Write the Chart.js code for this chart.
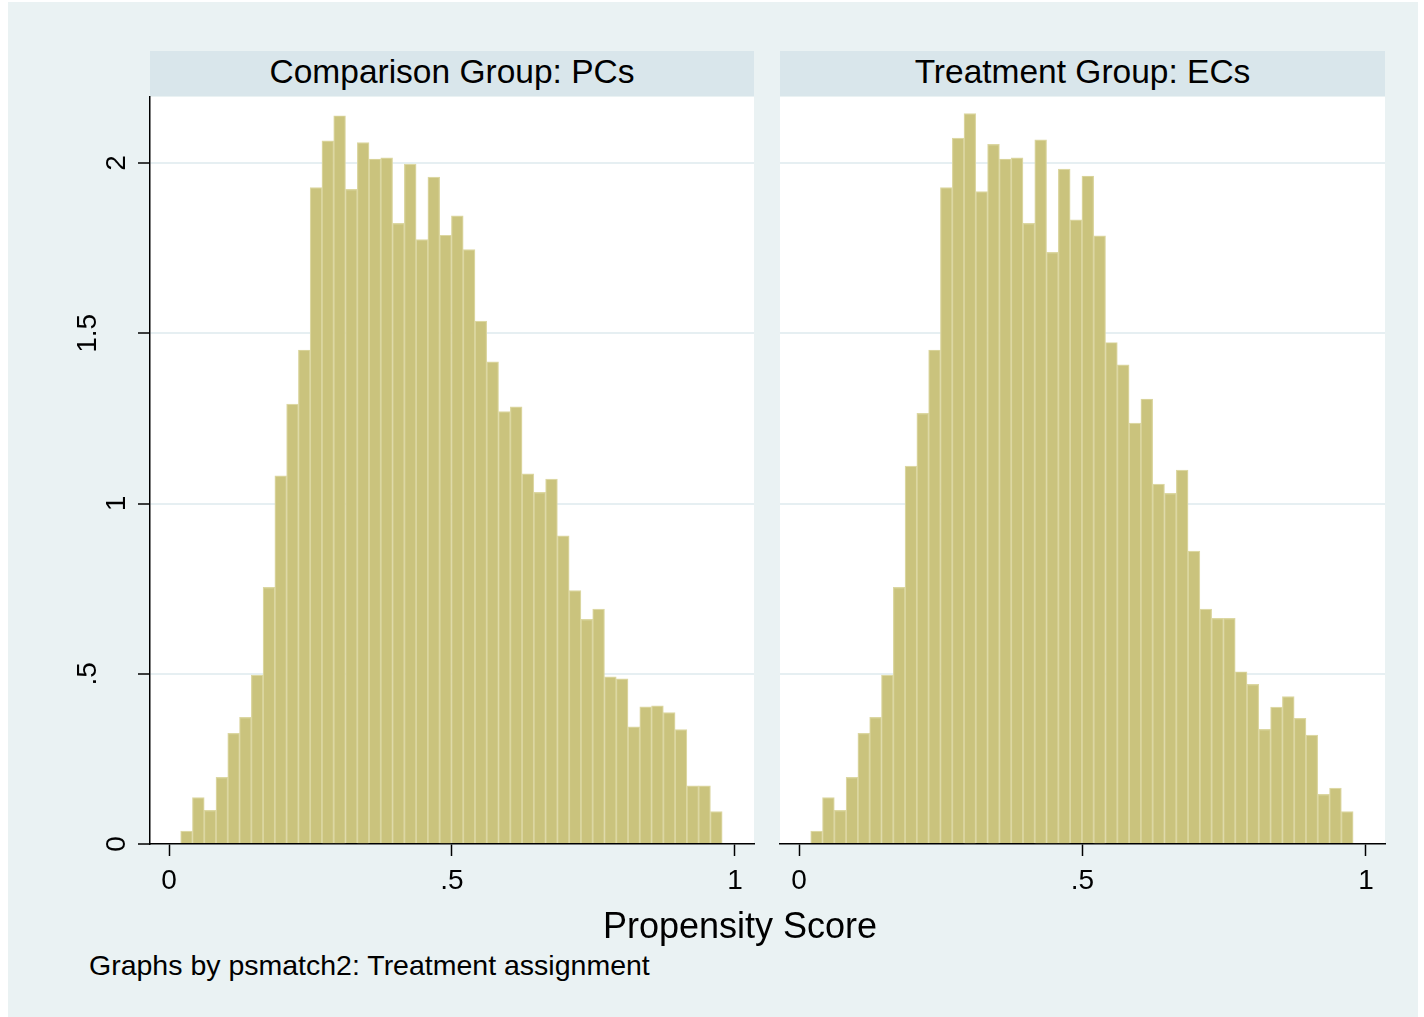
<!DOCTYPE html>
<html>
<head>
<meta charset="utf-8">
<script src="https://cdn.jsdelivr.net/npm/chart.js@4"></script>
<style>
  body { margin: 0; background: #fff; }
  #page { position: relative; width: 1424px; height: 1017px; overflow: hidden; font-family: "Liberation Sans", Arial, sans-serif; }
  #bg { position: absolute; left: 8px; top: 2px; width: 1410px; height: 1015px; background: #eaf2f3; }
  .strip { position: absolute; top: 51px; height: 45px; background: #d9e6eb; font-size: 33.5px; line-height: 41px; text-align: center; color: #000; }
  canvas { position: absolute; }
  #xtitle { position: absolute; left: 440px; width: 600px; top: 908px; font-size: 36px; line-height: 36px; text-align: center; }
  #note { position: absolute; left: 89px; top: 951px; font-size: 28.5px; line-height: 28px; white-space: nowrap; }
</style>
</head>
<body>
<div id="page">
  <div id="bg"></div>
  <div class="strip" style="left:150px;width:604px;">Comparison Group: PCs</div>
  <div class="strip" style="left:780px;width:605px;">Treatment Group: ECs</div>
  <canvas id="left" width="700" height="820" style="left:60px;top:90px;"></canvas>
  <canvas id="right" width="625" height="820" style="left:770px;top:90px;"></canvas>
  <div id="xtitle">Propensity Score</div>
  <div id="note">Graphs by psmatch2: Treatment assignment</div>
</div>
<script>
// histogram bins (46 bins of the propensity score)
const binStart = 0.0206;
const binWidth = 0.0208;

// density per bin, comparison group (PCs)
const pcDensity = [
  0.038, 0.136, 0.099, 0.196, 0.325, 0.372, 0.496, 0.754, 1.081, 1.292,
  1.451, 1.928, 2.065, 2.139, 1.923, 2.060, 2.012, 2.015, 1.823, 1.997,
  1.775, 1.959, 1.788, 1.845, 1.746, 1.536, 1.416, 1.270, 1.284, 1.087,
  1.033, 1.072, 0.905, 0.744, 0.660, 0.690, 0.491, 0.485, 0.344, 0.403,
  0.406, 0.386, 0.336, 0.171, 0.171, 0.095
];

// density per bin, treatment group (ECs)
const ecDensity = [
  0.038, 0.136, 0.099, 0.196, 0.325, 0.372, 0.496, 0.754, 1.110, 1.265,
  1.451, 1.928, 2.073, 2.145, 1.916, 2.055, 2.012, 2.015, 1.823, 2.068,
  1.738, 1.982, 1.833, 1.962, 1.786, 1.473, 1.407, 1.236, 1.307, 1.057,
  1.030, 1.098, 0.860, 0.690, 0.663, 0.663, 0.506, 0.469, 0.337, 0.402,
  0.433, 0.369, 0.320, 0.146, 0.164, 0.095
];

const xTicks = [0, 0.5, 1];
const xTickLabels = ['0', '.5', '1'];
const yTicks = [0, 0.5, 1, 1.5, 2];
const yTickLabels = ['0', '.5', '1', '1.5', '2'];

const barFill = '#cac37d';
const barEdge = '#dcd7a2';
const gridCol = '#e6eff2';
const tickFont = '28px "Liberation Sans", Arial, sans-serif';

function toPoints(values) {
  return values.map((v, i) => ({ x: binStart + binWidth * (i + 0.5), y: v }));
}

// white plot region
const plotBg = {
  id: 'plotBg',
  beforeDraw(chart) {
    let a = chart.chartArea, ctx = chart.ctx;
    ctx.save();
    ctx.fillStyle = '#fff';
    ctx.fillRect(a.left, a.top, a.right - a.left, a.bottom - a.top);
    ctx.restore();
  }
};

// vertical (rotated) y tick labels, Stata style
const yLabels = {
  id: 'yLabels',
  afterDraw(chart) {
    let ctx = chart.ctx, scale = chart.scales.y;
    ctx.save();
    ctx.font = tickFont;
    ctx.fillStyle = '#000';
    ctx.textAlign = 'center';
    ctx.textBaseline = 'middle';
    yTicks.forEach((v, i) => {
      let label = yTickLabels[i];
      let px = scale.right - (label.indexOf('.') >= 0 ? 62 : 33);
      let py = scale.getPixelForValue(v);
      ctx.save();
      ctx.translate(px, py);
      ctx.rotate(-Math.PI / 2);
      ctx.fillText(label, 0, 0);
      ctx.restore();
    });
    ctx.restore();
  }
};

function makePanel(id, values, showYAxis, padding) {
  let ctx = document.getElementById(id).getContext('2d');
  return new Chart(ctx, {
    type: 'bar',
    data: {
      datasets: [{
        data: toPoints(values),
        backgroundColor: barFill,
        borderColor: barEdge,
        borderWidth: 1.2,
        borderSkipped: 'start',
        barPercentage: 1,
        categoryPercentage: 1
      }]
    },
    options: {
      responsive: false,
      animation: false,
      layout: { padding: padding },
      plugins: { legend: { display: false }, tooltip: { enabled: false } },
      scales: {
        x: {
          type: 'linear',
          min: -0.0336,
          max: 1.0336,
          offset: false,
          afterBuildTicks: s => { s.ticks = xTicks.map(v => ({ value: v })); },
          afterFit: s => { s.height = 66; },
          ticks: {
            padding: 8,
            color: '#000',
            font: { family: '"Liberation Sans", Arial, sans-serif', size: 28 },
            maxRotation: 0,
            autoSkip: false,
            callback: (v, i) => xTickLabels[i]
          },
          grid: { offset: false, drawOnChartArea: false, drawTicks: true, tickLength: 12, tickColor: '#000', tickWidth: 1.5 },
          border: { display: true, color: '#000', width: 1.5 }
        },
        y: {
          min: 0,
          max: 2.194,
          afterBuildTicks: s => { s.ticks = yTicks.map(v => ({ value: v })); },
          afterFit: s => { s.width = showYAxis ? 90 : 0; },
          ticks: { display: false },
          grid: {
            color: c => (c.tick && c.tick.value === 0) ? 'rgba(0,0,0,0)' : gridCol,
            lineWidth: 2,
            drawTicks: showYAxis,
            tickLength: 12,
            tickColor: '#000',
            tickWidth: 1.5
          },
          border: { display: showYAxis, color: '#000', width: 1.5 }
        }
      }
    },
    plugins: showYAxis ? [plotBg, yLabels] : [plotBg]
  });
}

let leftChart = makePanel('left', pcDensity, true, { top: 7, right: 6, left: 0, bottom: 0 });
let rightChart = makePanel('right', ecDensity, false, { top: 7, right: 10, left: 10, bottom: 0 });
</script>
</body>
</html>
